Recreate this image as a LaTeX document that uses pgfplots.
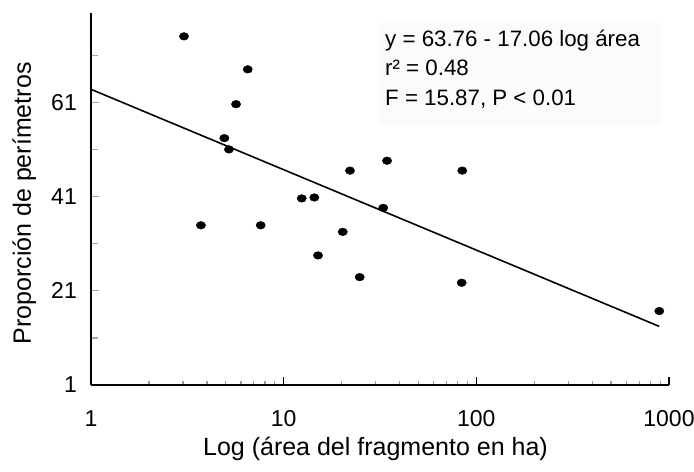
\documentclass[border=0pt]{standalone}
\usepackage{fontspec}
\setmainfont{Liberation Sans}
\usepackage{pgfplots}
\pgfplotsset{compat=1.18}
\definecolor{boxfill}{RGB}{252,251,249}
\newcommand{\notefont}{\fontsize{22.3bp}{26bp}\selectfont}
\newcommand{\tickfont}{\fontsize{23bp}{27bp}\selectfont}
\newcommand{\labelfont}{\fontsize{25bp}{29bp}\selectfont}

\begin{document}
\begin{tikzpicture}
\begin{axis}[
    scale only axis,
    width=578bp, height=372.2bp,
    xmode=log,
    xmin=1, xmax=1000,
    ymin=1, ymax=80,
    axis x line=bottom, axis y line=left,
    axis line style={-, line width=2bp, black},
    tick align=inside,
    xtick={1,10,100,1000},
    xticklabels={1,10,100,1000},
    minor xtick={2,3,4,5,6,7,8,9,20,30,40,50,60,70,80,90,200,300,400,500,600,700,800,900},
    ytick={1,21,41,61},
    yticklabels={1,21,41,61},
    minor ytick={11,31,51,71},
    major tick length=8.5bp,
    xtick style={black, line width=1.3bp},
    minor x tick style={gray!80, line width=1.2bp, /pgfplots/minor tick length=4bp},
    ytick style={gray!70, line width=1.3bp},
    minor y tick style={gray!70, line width=1.3bp, /pgfplots/minor tick length=7bp},
    /pgf/number format/assume math mode=true,
    tick label style={font=\tickfont},
    xticklabel style={anchor=north, inner sep=0pt, yshift=-25bp},
    yticklabel style={anchor=east, inner sep=0pt, xshift=-14bp},
    label style={font=\labelfont},
    xlabel={Log (área del fragmento en ha)},
    ylabel={Proporción de perímetros},
    xlabel style={at={(axis description cs:0.4922,-0.1889)}, anchor=base},
    ylabel style={at={(axis description cs:-0.1038,0.4877)}, anchor=base},
]
% regresión
\addplot[black, line width=1.6bp, no markers] coordinates {
    (1,63.76) (890,13.44)
};
% fragmentos
\addplot[only marks, mark=*, mark size=3.85bp, black,
    mark options={xscale=1.21}] coordinates {
    (3.04,75.0) (6.51,68.0) (5.66,60.6) (4.92,53.4) (5.20,51.0)
    (3.72,34.9) (7.60,34.9) (12.41,40.6) (14.42,40.8) (20.25,33.5)
    (22.10,46.5) (34.39,48.6) (84.56,46.5) (32.89,38.6) (15.08,28.5)
    (24.81,23.9) (83.96,22.7) (890.5,16.7)
};
\end{axis}
\fill[boxfill] (288bp,260bp) rectangle (570bp,363bp);
\node[anchor=base west, inner sep=0pt, font=\notefont] at (294bp,338.3bp) {y = 63.76 - 17.06 log área};
\node[anchor=base west, inner sep=0pt, font=\notefont] at (294bp,309bp) {r² = 0.48};
\node[anchor=base west, inner sep=0pt, font=\notefont] at (294bp,279.3bp) {F = 15.87, P < 0.01};
\pgfresetboundingbox
\path (-91bp,-87bp) rectangle (603bp,385bp);
\end{tikzpicture}
\end{document}
